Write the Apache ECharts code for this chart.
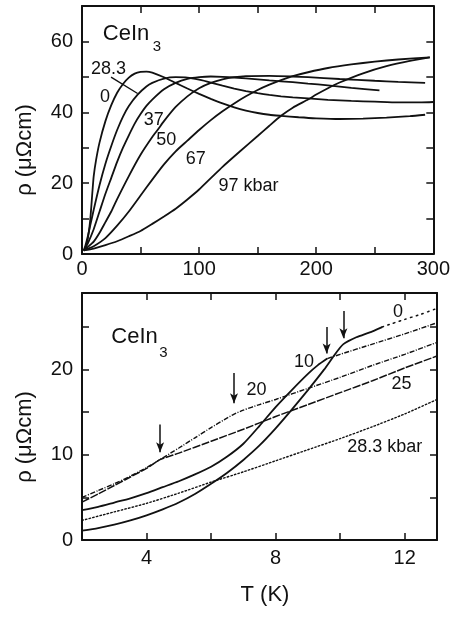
<!DOCTYPE html>
<html>
<head>
<meta charset="utf-8">
<script src="https://cdn.jsdelivr.net/npm/echarts@6/dist/echarts.min.js"></script>
<style>
  html, body { margin: 0; padding: 0; background: #fff; }
  #chart { width: 453px; height: 618px; }
</style>
</head>
<body>
<div id="chart"></div>
<script>
// ---- Upper panel: rho(T) of CeIn3 up to 300 K at several pressures (kbar) ----
const p0 = [[1.5,1.0],[3,1.8],[5,4.4],[7,9.5],[9,18],[10,22],[12,26.5],[15,31.5],[20,37.5],[25,42],[30,45.5],[35,48],[40,49.8],[45,50.9],[50,51.4],[55,51.5],[60,51.2],[70,49.9],[80,48.3],[90,46.7],[100,45.2],[110,43.8],[120,42.5],[130,41.4],[140,40.5],[150,39.8],[160,39.3],[170,39.0],[185,38.6],[200,38.3],[220,38.1],[240,38.2],[260,38.5],[280,38.9],[293,39.3]];
const p28 = [[1.5,1.0],[3,2.5],[5,5],[7,8],[10,12.5],[15,19.5],[20,25.5],[25,30.5],[30,35],[35,38.8],[40,41.8],[47.5,45],[55,47.3],[60,48.3],[70,49.5],[80,49.9],[90,49.8],[100,49.2],[110,48.4],[120,47.5],[130,46.7],[140,46],[150,45.4],[160,44.9],[170,44.5],[180,44.2],[193,43.9],[210,43.5],[230,43.2],[250,43],[270,42.8],[290,42.8],[300,42.9]];
const p37 = [[1.5,1.0],[3,1.8],[5,3],[10,7],[15,12],[20,17],[25,21.5],[30,26],[35,30],[40,33.5],[45,36.8],[50,39.5],[55,41.8],[60,43.6],[70,46.5],[80,48.3],[90,49.4],[100,49.9],[110,50.1],[120,50],[140,49.6],[160,49],[180,48.5],[193,48.1],[210,47.6],[230,46.9],[254,46.2]];
const p50 = [[1.5,1.0],[5,2],[10,3.5],[15,6],[20,9],[25,12],[30,15.5],[40,22],[50,28],[60,33],[65,35.2],[70,37.5],[80,41.5],[90,44.5],[100,46.8],[110,48.3],[120,49.3],[130,49.9],[140,50.2],[160,50.3],[180,50.1],[193,49.9],[220,49.4],[250,48.9],[270,48.6],[293,48.3]];
const p67 = [[1.5,1.0],[5,1.5],[10,2.2],[20,4.5],[30,8],[40,12],[50,16.5],[60,21],[70,25.3],[80,29],[90,32],[100,35],[110,37.8],[120,40.3],[130,42.5],[140,44.5],[150,46.3],[160,47.8],[170,49.1],[180,50.2],[193,51.3],[210,52.5],[230,53.5],[250,54.3],[270,54.9],[297,55.5]];
const p97 = [[1.5,1.0],[10,1.5],[20,2.5],[30,3.6],[40,5],[50,6.5],[60,8.5],[70,10.6],[80,12.8],[90,15.4],[100,18.2],[110,21.4],[120,24.6],[135,29],[150,33.3],[160,36.2],[170,39],[180,41.3],[193,43.6],[200,45],[210,46.8],[220,48.4],[240,51],[260,53],[280,54.5],[297,55.5]];

// ---- Lower panel: low-temperature rho(T), 2-13 K ----
const q0 = [[2,1.1],[2.5,1.4],[3,1.8],[3.5,2.3],[4,2.9],[4.5,3.6],[5,4.4],[5.5,5.4],[6,6.6],[6.5,7.9],[7,9.4],[7.5,11.1],[8,13.1],[8.5,15.3],[9,17.6],[9.5,20.0],[9.8,21.6],[10.0,22.6],[10.1,23.0],[10.25,23.35],[10.5,23.8],[11,24.5],[11.3,25.0]];
const q0Dotted = [[11.3,25.0],[11.6,25.4],[12,25.9],[12.5,26.5],[13,27.2]];
const q10 = [[2,3.5],[2.5,3.9],[3,4.4],[3.5,4.9],[4,5.5],[4.5,6.2],[5,6.9],[5.5,7.7],[6,8.6],[6.5,9.8],[7,11.3],[7.5,13.4],[8,15.6],[8.5,17.6],[9,19.5],[9.3,20.5],[9.6,21.3]];
const q10Dashed = [[9.6,21.3],[10,21.8],[11,23.0],[12,24.2],[13,25.5]];
const q20 = [[2,5.0],[2.5,5.8],[3,6.6],[3.5,7.5],[4,8.5],[4.4,9.4],[5,10.8],[5.5,12.0],[6,13.2],[6.4,14.1],[6.7,14.75],[7,15.25],[7.5,15.9],[8,16.5],[9,17.8],[10,19.1],[11,20.5],[12,21.8],[13,23.2]];
const q25 = [[2,4.45],[2.5,5.4],[3,6.4],[3.5,7.4],[4,8.4],[4.4,9.4],[5,10.2],[6,11.6],[7,13.0],[8,14.5],[9,15.9],[10,17.3],[11,18.7],[12,20.2],[13,21.6]];
const q28 = [[2,2.3],[3,3.3],[4,4.3],[5,5.5],[6,6.8],[7,8.0],[8,9.3],[9,10.6],[10,11.9],[11,13.3],[12,14.8],[13,16.5]];

// Transition arrows: [T, rho at tail, rho at tip]
const arrows = [[4.42,13.55,10.3],[6.71,19.6,16.05],[9.58,25.0,21.9],[10.1,26.9,23.7]];

// Tick spacing / label steps
const topXTicks = { min: 0, max: 300, step: 50, labelStep: 100 };
const topYTicks = { min: 0, max: 70, step: 10, labelStep: 20 };
const botXTicks = { min: 2, max: 13, step: 2, labelStep: 4 };
const botYTicks = { min: 0, max: 29, step: 5, labelStep: 10 };

const FONT = '"Liberation Sans", Arial, Helvetica, sans-serif';
const INK = '#111';

const chart = echarts.init(document.getElementById('chart'), null, { renderer: 'canvas' });

function axis(gridIndex, pos, t, labelled, margin) {
  return {
    type: 'value', gridIndex, position: pos,
    min: t.min, max: t.max, interval: t.step,
    axisLine: { show: true, onZero: false, lineStyle: { color: INK, width: 2 } },
    axisTick: { show: true, inside: true, length: 7, lineStyle: { color: INK, width: 1.5 } },
    splitLine: { show: false },
    axisLabel: {
      show: labelled, margin: margin, color: INK, fontSize: 20, fontFamily: FONT,
      showMinLabel: true, showMaxLabel: true,
      formatter: v => (Math.abs(v % t.labelStep) < 1e-9 ? String(v) : '')
    }
  };
}

function curve(data, xi, style) {
  return {
    type: 'line', data, xAxisIndex: xi, yAxisIndex: xi,
    showSymbol: false, symbol: 'none', smooth: 0.2, silent: true,
    lineStyle: Object.assign({ color: INK, width: 1.8 }, style || {})
  };
}

const topSeries = [p0, p28, p37, p50, p67, p97].map(d => curve(d, 0));
// leader from the "28.3" label to its curve
topSeries[1].markLine = {
  silent: true, symbol: ['none', 'none'], animation: false,
  label: { show: false },
  lineStyle: { color: INK, width: 1.4, type: 'solid' },
  data: [[{ coord: [24.8, 49.9] }, { coord: [47.5, 45.3] }]]
};

const bottomSeries = [
  curve(q0, 2, { width: 1.8 }),
  curve(q0Dotted, 2, { width: 1.5, type: [1.5, 4.5], cap: 'round' }),
  curve(q10, 2, { width: 1.8 }),
  curve(q10Dashed, 2, { width: 1.4, type: [5, 1.5, 1, 1.5] }),
  curve(q20, 2, { width: 1.4, type: [5, 1.5, 1, 1.5] }),
  curve(q25, 2, { width: 1.5, type: [8, 1.5] }),
  curve(q28, 2, { width: 1.4, type: [1.5, 2.2], cap: 'round' })
];
bottomSeries[6].markLine = {
  silent: true, symbol: ['none', 'arrow'], symbolSize: [6, 10], animation: false,
  label: { show: false },
  lineStyle: { color: INK, width: 1.5, type: 'solid' },
  data: arrows.map(a => [{ coord: [a[0], a[1]] }, { coord: [a[0], a[2]] }])
};

const option = {
  animation: false,
  backgroundColor: '#fff',
  grid: [
    { left: 82, top: 6, width: 355, height: 248 },
    { left: 82, top: 293, width: 355, height: 247 }
  ],
  xAxis: [
    axis(0, 'bottom', topXTicks, true, 5),
    axis(0, 'top', topXTicks, false, 0),
    axis(1, 'bottom', botXTicks, true, 8),
    axis(1, 'top', botXTicks, false, 0)
  ],
  yAxis: [
    axis(0, 'left', topYTicks, true, 9),
    axis(0, 'right', topYTicks, false, 0),
    axis(1, 'left', botYTicks, true, 9),
    axis(1, 'right', botYTicks, false, 0)
  ],
  series: topSeries.concat(bottomSeries)
};
chart.setOption(option);

// Text annotations anchored in data coordinates: [grid, T, rho, text, size, align]
const notes = [
  [0, 17.8, 62.0, 'CeIn', 22, 'left'],
  [0, 64.0, 58.6, '3', 15, 'center'],
  [0, 22.7, 52.1, '28.3', 18, 'center'],
  [0, 19.6, 44.4, '0', 18, 'center'],
  [0, 61.3, 37.8, '37', 18, 'center'],
  [0, 71.9, 32.1, '50', 18, 'center'],
  [0, 97.2, 26.7, '67', 18, 'center'],
  [0, 142.1, 19.2, '97 kbar', 18, 'center'],
  [1, 2.91, 23.8, 'CeIn', 22, 'left'],
  [1, 4.52, 22.0, '3', 15, 'center'],
  [1, 11.79, 26.8, '0', 18, 'center'],
  [1, 8.88, 20.9, '10', 18, 'center'],
  [1, 7.41, 17.6, '20', 18, 'center'],
  [1, 11.9, 18.3, '25', 18, 'center'],
  [1, 11.38, 10.9, '28.3 kbar', 18, 'center']
];

const graphics = notes.map(n => {
  const p = chart.convertToPixel({ gridIndex: n[0] }, [n[1], n[2]]);
  return {
    type: 'text', x: p[0], y: p[1], silent: true,
    style: { text: n[3], fill: INK, font: n[4] + 'px ' + FONT, textAlign: n[5], textVerticalAlign: 'middle' }
  };
});

// Axis titles
graphics.push(
  { type: 'text', x: 25, y: 150, rotation: Math.PI / 2, silent: true,
    style: { text: 'ρ (μΩcm)', fill: INK, font: '22px ' + FONT, textAlign: 'center', textVerticalAlign: 'middle' } },
  { type: 'text', x: 25, y: 437, rotation: Math.PI / 2, silent: true,
    style: { text: 'ρ (μΩcm)', fill: INK, font: '22px ' + FONT, textAlign: 'center', textVerticalAlign: 'middle' } },
  { type: 'text', x: 265, y: 595, silent: true,
    style: { text: 'T (K)', fill: INK, font: '22px ' + FONT, textAlign: 'center', textVerticalAlign: 'middle' } }
);

chart.setOption({ graphic: graphics });
</script>
</body>
</html>
